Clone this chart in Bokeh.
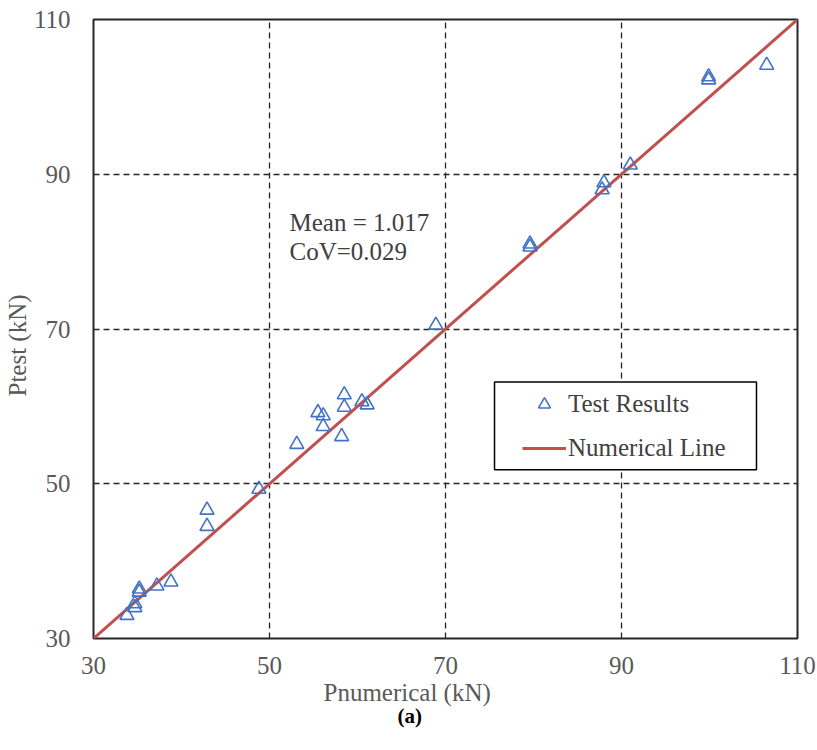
from bokeh.plotting import figure
from bokeh.models import Range1d, FixedTicker, Label, Legend, LegendItem, BoxAnnotation, Title
from bokeh.embed import file_html
from bokeh.resources import INLINE

p_numerical = [33.8, 34.7, 34.7, 35.2, 35.2, 37.2, 38.8, 42.9, 42.9, 48.8,
               53.1, 55.5, 56.1, 56.1, 58.5, 58.5, 58.2, 60.5, 61.1,
               68.9, 79.6, 79.6, 88.0, 87.8, 91.0, 99.9, 99.9, 106.5]
p_test = [33.0, 34.5, 34.0, 36.4, 36.0, 36.8, 37.3, 46.6, 44.5, 49.3,
          55.1, 59.2, 58.8, 57.4, 61.5, 59.9, 56.1, 60.6, 60.2,
          70.5, 81.0, 80.6, 88.9, 88.0, 91.2, 102.2, 102.6, 104.1]
line_x = [30, 110]
line_y = [30, 110]
ticks = [30, 50, 70, 90, 110]

FONT = "Liberation Serif"
GREY = "#595959"
TXT = "#404040"

p = figure(width=817, height=750, output_backend="svg", toolbar_location=None,
           x_range=Range1d(30, 110), y_range=Range1d(30, 110),
           min_border_left=93, min_border_right=20, min_border_top=19, min_border_bottom=112)
p.background_fill_color = "white"
p.border_fill_color = "white"
p.outline_line_color = "#262626"
p.outline_line_width = 2

for ax in (p.xaxis, p.yaxis):
    ax.ticker = FixedTicker(ticks=ticks)
    ax.major_tick_line_color = None
    ax.minor_tick_line_color = None
    ax.axis_line_color = None
    ax.major_label_text_font = FONT
    ax.major_label_text_font_size = "25px"
    ax.major_label_text_color = GREY
p.xaxis.major_label_standoff = 12
p.yaxis.major_label_standoff = 17

p.grid.grid_line_color = "#262626"
p.grid.grid_line_dash = "6 4"
p.grid.grid_line_width = 1.3

r_line = p.line(line_x, line_y, line_color="#C0504D", line_width=3)
r_pts = p.scatter(p_numerical, p_test, marker="triangle", size=14,
                  fill_color=None, line_color="#4472C4", line_width=1.6)

# annotation text
p.add_layout(Label(x=52.27, y=83.76, text="Mean = 1.017", text_font=FONT,
                   text_font_size="25px", text_color=TXT, text_baseline="middle"))
p.add_layout(Label(x=52.27, y=80.02, text="CoV=0.029", text_font=FONT,
                   text_font_size="25px", text_color=TXT, text_baseline="middle"))

# legend frame
p.add_layout(BoxAnnotation(left=75.57, right=105.34, bottom=51.8, top=63.16,
                           fill_color="white", fill_alpha=1.0,
                           line_color="black", line_alpha=1.0, line_width=1.5,
                           level="annotation"))

legend = Legend(items=[LegendItem(label="Test Results", renderers=[r_pts]),
                       LegendItem(label="Numerical Line", renderers=[r_line])],
                location=(429, 175))
legend.label_text_font = FONT
legend.label_text_font_size = "25px"
legend.label_text_color = TXT
legend.border_line_color = None
legend.background_fill_alpha = 0
legend.glyph_width = 44
legend.glyph_height = 30
legend.label_height = 30
legend.spacing = 14
legend.padding = 0
legend.margin = 0
legend.label_standoff = 2
p.add_layout(legend, "center")

# axis titles and caption
p.add_layout(Title(text="Pnumerical (kN)", align="left", offset=230, standoff=0,
                   text_font=FONT, text_font_size="25px", text_font_style="normal",
                   text_color=GREY), "below")
p.add_layout(Title(text="(a)", align="left", offset=304, standoff=-7,
                   text_font=FONT, text_font_size="21px", text_font_style="bold",
                   text_color="black"), "below")
p.add_layout(Title(text="Ptest (kN)", align="left", offset=242, standoff=0,
                   text_font=FONT, text_font_size="25px", text_font_style="normal",
                   text_color=GREY), "left")

open("out.html", "w").write(file_html(p, INLINE))
